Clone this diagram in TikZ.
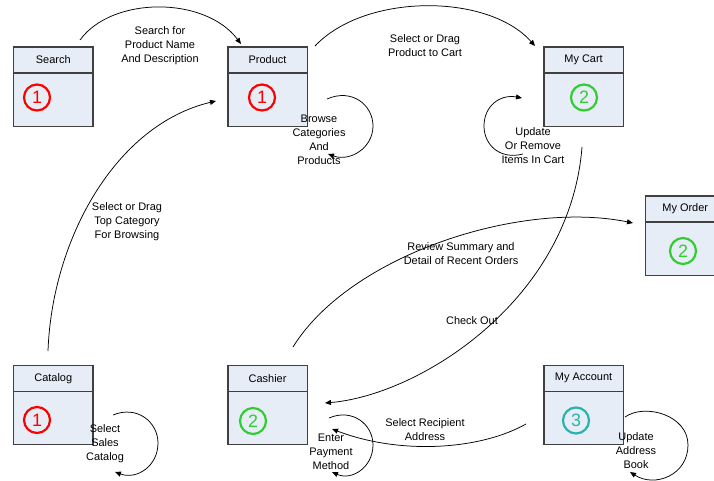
\documentclass[tikz,border=0pt]{standalone}
\usepackage{fontspec}
\setmainfont{Liberation Sans}
\usetikzlibrary{arrows.meta}

\definecolor{boxfill}{RGB}{230,237,247}
\definecolor{boxedge}{RGB}{64,64,64}
\definecolor{numred}{RGB}{255,0,0}
\definecolor{numgreen}{RGB}{51,204,51}
\definecolor{numteal}{RGB}{40,180,170}

\tikzset{
  stagebody/.style={draw=boxedge, fill=boxfill, line width=1.2bp,
    minimum width=79.3bp, minimum height=79.5bp, inner sep=0, anchor=north west},
  stagetitle/.style={font=\fontsize{11}{13}\selectfont, inner sep=0},
  stagenum/.style={circle, line width=2.2bp, minimum size=26bp, inner sep=0,
    font=\fontsize{18}{18}\selectfont},
  flow/.style={line width=0.75bp, -{Triangle[length=6bp,width=5bp]}},
  flowlabel/.style={font=\fontsize{11}{14}\selectfont, align=center, inner sep=0},
}

% #1 name, #2/#3 top-left corner, #4 title, #5 step number, #6 colour, #7/#8 number centre
\newcommand\stagebox[8]{%
  \node[stagebody] (#1) at (#2,#3) {};
  \draw[boxedge, line width=1.2bp] ([yshift=-26.5bp]#1.north west) -- ([yshift=-26.5bp]#1.north east);
  \node[stagetitle] (#1-title) at ([yshift=-13.5bp]#1.north) {#4};
  \node[stagenum, draw=#6, text=#6] (#1-num) at (#7,#8) {#5};
}

\begin{document}
\begin{tikzpicture}[x=1bp, y=-1bp]
  \clip (0,0) rectangle (714,481);

  % pages of the shop
  \stagebox{search}{13}{46.5}{Search}{1}{numred}{37}{97.5}
  \stagebox{product}{227.3}{46.5}{Product}{1}{numred}{262}{97.5}
  \stagebox{cart}{543.3}{46.5}{My Cart}{2}{numgreen}{584}{97.5}
  \stagebox{order}{645}{195.5}{My Order}{2}{numgreen}{683}{251}
  \stagebox{catalog}{13}{364.7}{Catalog}{1}{numred}{37}{420}
  \stagebox{cashier}{227.3}{364.7}{Cashier}{2}{numgreen}{253}{421}
  \stagebox{account}{543.3}{364.7}{My Account}{3}{numteal}{576}{420.5}

  % connector end points
  \coordinate (search-out)   at (80,40);
  \coordinate (product-in)   at (241,44);
  \coordinate (product-out)  at (315,46);
  \coordinate (cart-in)      at (535,46);
  \coordinate (catalog-out)  at (48,351);
  \coordinate (product-left) at (216,101);
  \coordinate (cart-out)     at (582,147);
  \coordinate (cashier-in)   at (325,403);
  \coordinate (cashier-out)  at (293,347);
  \coordinate (order-in)     at (633,223);
  \coordinate (account-out)  at (526,424);
  \coordinate (cashier-low)  at (332,429);

  % loop ends
  \coordinate (product-loop-a) at (327,99);
  \coordinate (product-loop-b) at (328,154);
  \coordinate (cart-loop-a)    at (523,154);
  \coordinate (cart-loop-b)    at (522,98);
  \coordinate (catalog-loop-a) at (113,415);
  \coordinate (catalog-loop-b) at (115,472);
  \coordinate (cashier-loop-a) at (329,418);
  \coordinate (cashier-loop-b) at (332,472);
  \coordinate (account-loop-a) at (625,417);
  \coordinate (account-loop-b) at (630,472);

  % transitions between pages
  \draw[flow] (search-out) .. controls (112,-4) and (205,-4) .. (product-in);
  \draw[flow] (product-out) .. controls (365,-7) and (488,-7) .. (cart-in);
  \draw[flow] (catalog-out) .. controls (52,240) and (115,125) .. (product-left);
  \draw[flow] (cart-out) .. controls (570,300) and (420,395) .. (cashier-in);
  \draw[flow] (cashier-out) .. controls (350,255) and (520,200) .. (order-in);
  \draw[flow] (account-out) .. controls (480,450) and (400,455) .. (cashier-low);

  % actions that stay on the same page
  \draw[flow] (product-loop-a) .. controls (352,88) and (373,105) .. (373,126)
                               .. controls (373,148) and (350,162) .. (product-loop-b);
  \draw[flow] (cart-loop-a) .. controls (500,160) and (484,145) .. (484,126)
                            .. controls (484,106) and (500,94) .. (cart-loop-b);
  \draw[flow] (catalog-loop-a) .. controls (137,405) and (158,422) .. (158,443)
                               .. controls (158,466) and (137,480) .. (catalog-loop-b);
  \draw[flow] (cashier-loop-a) .. controls (352,408) and (373,424) .. (373,445)
                               .. controls (373,467) and (352,481) .. (cashier-loop-b);
  \draw[flow] (account-loop-a) .. controls (645,403) and (688,415) .. (688,445)
                               .. controls (688,475) and (655,488) .. (account-loop-b);

  % labels
  \node[flowlabel] (l-search)   at (160,46)    {Search for\\Product Name\\And Description};
  \node[flowlabel] (l-tocart)   at (425,45.5)  {Select or Drag\\Product to Cart};
  \node[flowlabel] (l-browse)   at (319,140)   {Browse\\Categories\\And\\Products};
  \node[flowlabel] (l-update)   at (533,145.5) {Update\\Or Remove\\Items In Cart};
  \node[flowlabel] (l-checkout) at (472,321)   {Check Out};
  \node[flowlabel] (l-review)   at (461,253.5) {Review Summary and\\Detail of Recent Orders};
  \node[flowlabel] (l-topcat)   at (127,222)   {Select or Drag\\Top Category\\For Browsing};
  \node[flowlabel] (l-sales)    at (105,444)   {Select\\Sales\\Catalog};
  \node[flowlabel] (l-payment)  at (331,451.5) {Enter\\Payment\\Method};
  \node[flowlabel] (l-address)  at (425,430)   {Select Recipient\\Address};
  \node[flowlabel] (l-book)     at (636,451)   {Update\\Address\\Book};
\end{tikzpicture}
\end{document}
